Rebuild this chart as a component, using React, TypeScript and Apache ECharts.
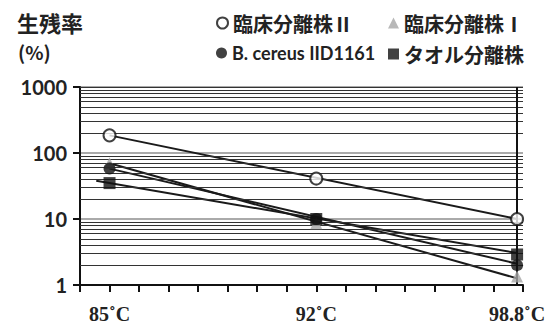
import React, { useEffect, useRef } from "react";
import * as echarts from "echarts";

// temperatures (°C) at which survival was measured
const temps = [85, 92, 98.8];
// survival (%) per strain
const clinical2 = [185, 41, 10]; // 臨床分離株Ⅱ (open circle)
const clinical1 = [70, 8.6, 1.35]; // 臨床分離株Ⅰ (gray triangle)
const bcereus = [58, 10, 2.0]; // B. cereus IID1161 (filled circle)
const towel = [35, 10, 2.9]; // タオル分離株 (square)

// trend lines [temperature, survival]
const clinical2Trend = [[85, 185], [98.8, 10]];
const clinical1Trend = [[85, 70], [98.8, 1.26]];
const bcereusTrend = [[85, 58], [98.8, 2.1]];
const towelTrend = [[84.55, 38], [98.8, 3.05]];

// axis ticks
const xLabelValues = [85, 92, 98.8];
const minorGrid = [2, 3, 4, 5, 6, 7, 8, 9, 20, 30, 40, 50, 60, 70, 80, 90, 200, 300, 400, 500, 600, 700, 800, 900, 1000];
const refTemp = 98.8;

const names = ["臨床分離株Ⅱ", "臨床分離株Ⅰ", "B. cereus IID1161", "タオル分離株"];

const cjk = "'Noto Sans CJK JP', 'Noto Sans', sans-serif";
const serif = "'Liberation Serif', serif";
const latin = "Lato, 'Noto Sans', sans-serif";

export default function App() {
  const ref = useRef<HTMLDivElement>(null);
  useEffect(() => {
    const chart = echarts.init(ref.current!, null, { renderer: "svg" });
    const pts = (vals: number[]) => temps.map((t, i) => [t, vals[i]]);
    const trend = (d: number[][]) => ({
      type: "line",
      data: d,
      symbol: "none",
      lineStyle: { color: "#1a1a1a", width: 2 },
      z: 3,
      silent: true,
    });
    const leg = (name: string, left: number, top: number, font: string, size: number) => ({
      data: [name],
      left,
      top,
      itemWidth: 11,
      itemHeight: 11,
      itemGap: 5,
      textStyle: { fontFamily: font, fontWeight: "bold", fontSize: size, color: "#222" },
    });
    const xl = { fontFamily: serif, fontWeight: "bold", fontSize: 20, color: "#222" };
    chart.setOption({
      animation: false,
      backgroundColor: "#fff",
      title: [
        {
          text: "生残率",
          left: 12,
          top: 6,
          textStyle: { fontFamily: cjk, fontWeight: "bold", fontSize: 22, color: "#222" },
        },
        {
          text: "(%)",
          left: 13,
          top: 37,
          textStyle: { fontFamily: cjk, fontWeight: "bold", fontSize: 19, color: "#222" },
        },
      ],
      legend: [
        leg(names[0], 211, 8, cjk, 20),
        leg(names[1], 383, 8, cjk, 20),
        leg(names[2], 211, 39, latin, 18),
        leg(names[3], 383, 39, cjk, 20),
      ],
      grid: { left: 80, right: 28, top: 87, bottom: 40 },
      xAxis: {
        type: "value",
        min: 84,
        max: 99,
        interval: 1,
        axisLine: { lineStyle: { color: "#111", width: 2 } },
        axisTick: { length: 7, lineStyle: { color: "#111", width: 2 } },
        splitLine: { show: false },
        axisLabel: {
          customValues: xLabelValues,
          margin: 19,
          ...xl,
          formatter: (v: number, i: number) => `{s${i}|${v}˚C}`,
          rich: {
            s0: { ...xl, padding: [0, 0, 0, 16] },
            s1: { ...xl, padding: [0, 0, 0, 2] },
            s2: { ...xl, padding: [0, 12, 5, 0] },
          },
        },
      },
      yAxis: {
        type: "log",
        logBase: 10,
        min: 1,
        max: 1000,
        axisLine: { show: true, lineStyle: { color: "#111", width: 2 } },
        axisTick: { show: true, length: 7, lineStyle: { color: "#111", width: 2 } },
        axisLabel: {
          margin: 13,
          fontFamily: latin,
          fontWeight: "bold",
          fontSize: 20,
          color: "#222",
          formatter: (v: number) => String(v),
        },
        splitLine: { show: true, lineStyle: { color: "#aaa", width: 2 } },
      },
      series: [
        {
          type: "line",
          data: [],
          silent: true,
          z: 1,
          markLine: {
            silent: true,
            symbol: "none",
            label: { show: false },
            lineStyle: { color: "#333", width: 1.2, type: "solid" },
            data: minorGrid.map((v) => ({ yAxis: v })),
          },
        },
        {
          type: "line",
          data: [],
          silent: true,
          z: 4,
          markLine: {
            silent: true,
            symbol: "none",
            label: { show: false },
            lineStyle: { color: "#111", width: 2, type: "solid" },
            data: [{ xAxis: refTemp }],
          },
        },
        trend(clinical1Trend),
        trend(bcereusTrend),
        trend(towelTrend),
        trend(clinical2Trend),
        {
          name: names[1],
          type: "scatter",
          data: pts(clinical1),
          symbol: "triangle",
          symbolSize: 12,
          itemStyle: { color: "#a6a6a6" },
          z: 5,
        },
        {
          name: names[2],
          type: "scatter",
          data: pts(bcereus),
          symbol: "circle",
          symbolSize: 12,
          itemStyle: { color: "#111" },
          z: 6,
        },
        {
          name: names[3],
          type: "scatter",
          data: pts(towel),
          symbol: "rect",
          symbolSize: 12,
          itemStyle: { color: "#111" },
          z: 7,
        },
        {
          name: names[0],
          type: "scatter",
          data: pts(clinical2),
          symbol: "circle",
          symbolSize: 12,
          itemStyle: { color: "#fff", borderColor: "#111", borderWidth: 2 },
          z: 8,
        },
      ],
    });
    return () => chart.dispose();
  }, []);
  return (
    <div
      ref={ref}
      style={{ position: "absolute", left: 0, top: 0, width: 551, height: 325, background: "#fff" }}
    />
  );
}
